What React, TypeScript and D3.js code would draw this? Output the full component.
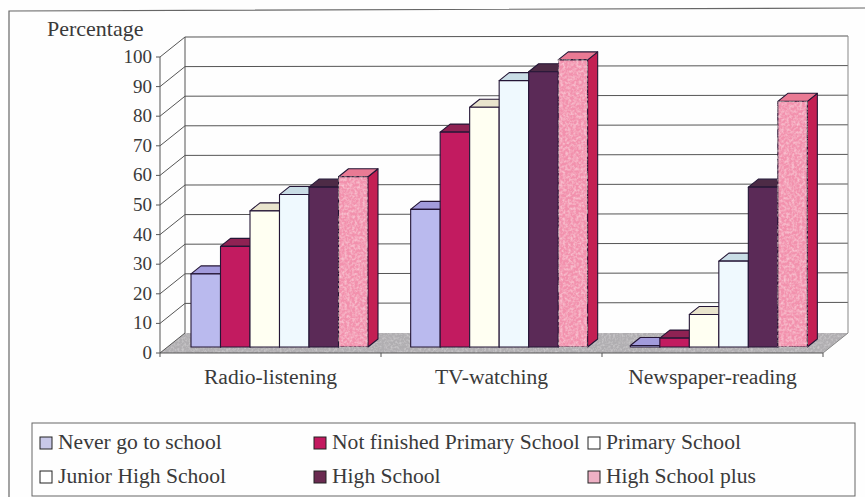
import React from "react";
import * as d3 from "d3";

const categories = ["Radio-listening", "TV-watching", "Newspaper-reading"];
const neverSchool = [24.7, 46.5, 0.5];
const notFinishedPrimary = [34, 72.6, 3];
const primarySchool = [46, 81, 11];
const juniorHigh = [51.5, 90, 29];
const highSchool = [54, 93, 54];
const highSchoolPlus = [57.5, 97, 83];
const yTicks = [0, 10, 20, 30, 40, 50, 60, 70, 80, 90, 100];

const seriesNames = [
  "Never go to school",
  "Not finished Primary School",
  "Primary School",
  "Junior High School",
  "High School",
  "High School plus",
];
const seriesValues = [neverSchool, notFinishedPrimary, primarySchool, juniorHigh, highSchool, highSchoolPlus];
const frontColors = ["#babaee", "#c21b60", "#fffff2", "#eff9fe", "#5b2a57", "#f291ad"];
const topColors = ["#a29bdc", "#8f2253", "#e9e4cd", "#c9dde6", "#4d2b46", "#e97a94"];
const sideColors = ["#8a84c4", "#8f2253", "#d8d4bc", "#b8ccd6", "#3e2038", "#c31f53"];
const legendFill = ["#c8c8e8", "#c3195f", "#ffffff", "#ffffff", "#6a2a50", "#eeb0c4"];

const TEXT = "#3a3a3a";
const FONT = "'Liberation Serif', serif";

// Oblique projection of the 3-D box: wall depth and bar depth in pixels.
const wallDx = 25;
const wallDy = -20;
const barDx = 10;
const barDy = -8;

const axisY = d3.scaleLinear().domain([0, 100]).range([353, 57]);
const frontX = d3.scaleBand<string>().domain(categories).range([160, 823]);
const barGroupX = d3.scaleBand<string>().domain(categories).range([168, 827]);
const barX = d3.scaleBand<number>().domain(d3.range(6)).range([23, 200]);
const barLift = -6;

const poly = (pts: [number, number][]) => pts.map((p) => p.join(",")).join(" ");

const legendCols = [40, 314, 588];
const legendRows = [443, 477];

export default function App() {
  const y0 = axisY(0);
  const y100 = axisY(100);
  const left = frontX.range()[0];
  const right = frontX.range()[1];
  const catEdges = [...categories.map((c) => frontX(c)!), right];

  return (
    <svg
      width={865}
      height={497}
      viewBox="0 0 865 497"
      style={{ position: "absolute", left: 0, top: 0, background: "#fefefe" }}
      fontFamily={FONT}
    >
      <defs>
        <filter id="pinkGrain" x="0" y="0" width="100%" height="100%">
          <feTurbulence type="fractalNoise" baseFrequency="0.38" numOctaves="2" seed="4" result="n" />
          <feColorMatrix
            in="n"
            type="matrix"
            values="0 0 0 0 1  0 0 0 0 0.8  0 0 0 0 0.85  1.1 0 0 0 -0.42"
            result="specks"
          />
          <feComposite in="specks" in2="SourceAlpha" operator="in" result="clipped" />
          <feMerge>
            <feMergeNode in="SourceGraphic" />
            <feMergeNode in="clipped" />
          </feMerge>
        </filter>
        <filter id="floorGrain" x="0" y="0" width="100%" height="100%">
          <feTurbulence type="fractalNoise" baseFrequency="0.45" numOctaves="2" seed="9" result="n" />
          <feColorMatrix
            in="n"
            type="matrix"
            values="0 0 0 0 0.8  0 0 0 0 0.79  0 0 0 0 0.8  1.0 0 0 0 -0.42"
            result="specks"
          />
          <feComposite in="specks" in2="SourceAlpha" operator="in" result="clipped" />
          <feMerge>
            <feMergeNode in="SourceGraphic" />
            <feMergeNode in="clipped" />
          </feMerge>
        </filter>
      </defs>

      {/* Outer frame, open at the right and bottom */}
      <polyline points="9,497 9,11 865,8" fill="none" stroke="#666" strokeWidth={1.2} />

      {/* Floor */}
      <polygon
        points={poly([
          [left, y0],
          [left + wallDx, y0 + wallDy],
          [right + wallDx, y0 + wallDy],
          [right, y0],
        ])}
        fill="#b0aeb1"
        filter="url(#floorGrain)"
      />

      {/* Back-wall gridlines and their continuation on the side wall */}
      {yTicks.map((t) => (
        <g key={t} stroke="#555" strokeWidth={1} fill="none">
          {t > 0 && (
            <line
              x1={left + wallDx}
              x2={right + wallDx}
              y1={axisY(t) + wallDy}
              y2={axisY(t) + wallDy - 1}
            />
          )}
          <line x1={left - 4} x2={left} y1={axisY(t)} y2={axisY(t)} />
          <line x1={left} x2={left + wallDx} y1={axisY(t)} y2={axisY(t) + wallDy} />
        </g>
      ))}

      {/* Wall edges and the value axis */}
      <g stroke="#555" strokeWidth={1} fill="none">
        <line x1={left} x2={left} y1={y100} y2={y0} />
        <line x1={left + wallDx} x2={left + wallDx} y1={y100 + wallDy} y2={y0 + wallDy} />
        <line x1={right + wallDx} x2={right + wallDx} y1={y100 + wallDy - 1} y2={y0 + wallDy} stroke="#888" />
        <line x1={left} x2={right} y1={y0} y2={y0} />
        <line x1={right} x2={right + wallDx} y1={y0} y2={y0 + wallDy} stroke="#888" />
        {catEdges.map((x) => (
          <line key={x} x1={x} x2={x} y1={y0} y2={y0 + 4} />
        ))}
      </g>

      {/* Bars, left to right so each front face covers the previous side face */}
      {categories.map((cat, ci) => (
        <g key={cat} stroke="#241636" strokeWidth={1.1} strokeLinejoin="round">
          {seriesValues.map((vals, si) => {
            const x0 = barGroupX(cat)! + barX(si)!;
            const x1 = x0 + barX.bandwidth();
            const yBase = axisY(0) + barLift;
            const yTop = axisY(vals[ci]) + barLift;
            return (
              <g key={si}>
                <polygon
                  points={poly([
                    [x1, yTop],
                    [x1 + barDx, yTop + barDy],
                    [x1 + barDx, yBase + barDy],
                    [x1, yBase],
                  ])}
                  fill={sideColors[si]}
                />
                <polygon
                  points={poly([
                    [x0, yTop],
                    [x0 + barDx, yTop + barDy],
                    [x1 + barDx, yTop + barDy],
                    [x1, yTop],
                  ])}
                  fill={topColors[si]}
                />
                <rect
                  x={x0}
                  y={yTop}
                  width={x1 - x0}
                  height={yBase - yTop}
                  fill={frontColors[si]}
                  filter={si === 5 ? "url(#pinkGrain)" : undefined}
                />
              </g>
            );
          })}
        </g>
      ))}

      {/* Value-axis labels */}
      <text x={47} y={36} fontSize={22} fill={TEXT}>
        Percentage
      </text>
      {yTicks.map((t) => (
        <text key={t} x={152} y={axisY(t) + 6} fontSize={19} textAnchor="end" fill={TEXT}>
          {t}
        </text>
      ))}

      {/* Category labels */}
      {categories.map((cat) => (
        <text
          key={cat}
          x={frontX(cat)! + frontX.bandwidth() / 2}
          y={384}
          fontSize={21.6}
          textAnchor="middle"
          fill={TEXT}
        >
          {cat}
        </text>
      ))}

      {/* Legend */}
      <rect x={32} y={423} width={823} height={73} fill="#fefefe" stroke="#666" strokeWidth={1} />
      {seriesNames.map((name, i) => {
        const col = i % 3;
        const row = Math.floor(i / 3);
        const cx = legendCols[col];
        const cy = legendRows[row];
        return (
          <g key={name}>
            <rect x={cx} y={cy - 6} width={12} height={12} fill={legendFill[i]} stroke="#222" strokeWidth={1} />
            <text x={cx + 18} y={cy + 6} fontSize={21.6} fill={TEXT}>
              {name}
            </text>
          </g>
        );
      })}
    </svg>
  );
}
